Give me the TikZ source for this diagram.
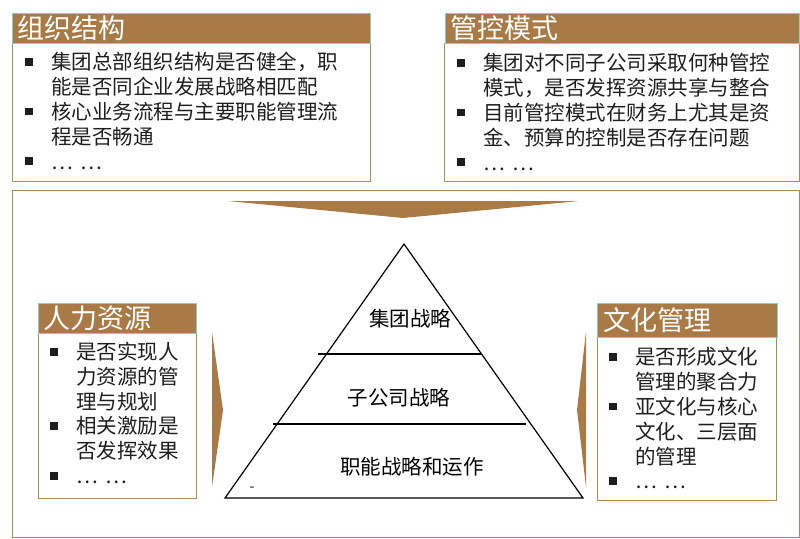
\documentclass[tikz,border=0pt]{standalone}
\usepackage{fontspec}
\setmainfont{Noto Sans CJK SC}
\usepackage{xcolor}
\usepackage{tikz}
\definecolor{hdbrown}{HTML}{A97A45}
\definecolor{lnbrown}{HTML}{B38A55}
\definecolor{lnteal}{HTML}{86D4B8}
\definecolor{txgray}{HTML}{1E1E1E}
\newcommand\sq{\makebox[26pt][l]{\raisebox{4pt}{\rule{7.6pt}{7.6pt}}}}
\newcommand\etcdots{…\hspace{8pt}…}
\newcommand\hd{\fontsize{27}{30}\selectfont}
\newcommand\bd{\fontsize{20.5}{24.8}\selectfont}

\tikzset{
  boxhead/.style={draw=lnteal, line width=0.8pt, fill=hdbrown, text=white,
    font=\hd, anchor=north west, inner sep=0pt, inner xsep=5pt, align=left},
  boxframe/.style={draw=lnbrown, line width=1.3pt, anchor=north west, inner sep=0pt},
  itemlist/.style={anchor=base west, inner sep=0pt, text=txgray, font=\bd},
  tier/.style={font=\bd, text=black, inner sep=0pt},
}

\begin{document}
\begin{tikzpicture}[x=1pt,y=-1pt]
      \useasboundingbox (0,0) rectangle (800,538);

      \coordinate (Org) at (12, 13);
      \coordinate (Orgb) at (12, 43);
      \coordinate (Orgl) at (25, 69.8);
      \coordinate (Ctl) at (445, 13);
      \coordinate (Ctlb) at (444, 43);
      \coordinate (Ctll) at (457, 70.8);
      \coordinate (Hr) at (38, 303);
      \coordinate (Hrb) at (38, 333);
      \coordinate (Hrl) at (50, 359.5);
      \coordinate (Cul) at (597, 303);
      \coordinate (Culb) at (597, 337);
      \coordinate (Cull) at (609, 364.8);

      \coordinate (Main) at (12, 190);

      \coordinate (Apex) at (404, 244);
      \coordinate (Basel) at (225, 498);
      \coordinate (Baser) at (583, 498);
      \coordinate (Tonel) at (318, 354);
      \coordinate (Toner) at (481, 354);
      \coordinate (Ttwol) at (273, 424);
      \coordinate (Ttwor) at (526, 424);

      \coordinate (Dnl) at (228, 201);
      \coordinate (Dnr) at (579, 201);
      \coordinate (Dnp) at (403, 218);
      \coordinate (Ltt) at (212, 332);
      \coordinate (Ltb) at (212, 487);
      \coordinate (Ltp) at (223, 410);
      \coordinate (Rtt) at (586, 332);
      \coordinate (Rtb) at (586, 487);
      \coordinate (Rtp) at (577, 410);

      \node[boxframe, minimum width=787, minimum height=347] (mainbox) at (Main) {};

      % top boxes
      \node[boxframe, minimum width=358, minimum height=138] (orgbody) at (Orgb) {};
      \node[boxhead, text width=348, minimum height=30] (orghead) at (Org) {组织结构};
      \node[itemlist] (orglist) at (Orgl) {\begin{tabular}[t]{@{}l@{}l@{}}
        \sq & 集团总部组织结构是否健全，职\\
            & 能是否同企业发展战略相匹配\\
        \sq & 核心业务流程与主要职能管理流\\
            & 程是否畅通\\
        \sq & \etcdots
      \end{tabular}};

      \node[boxframe, minimum width=355, minimum height=138] (ctlbody) at (Ctlb) {};
      \node[boxhead, text width=344, minimum height=30] (ctlhead) at (Ctl) {管控模式};
      \node[itemlist] (ctllist) at (Ctll) {\begin{tabular}[t]{@{}l@{}l@{}}
        \sq & 集团对不同子公司采取何种管控\\
            & 模式，是否发挥资源共享与整合\\
        \sq & 目前管控模式在财务上尤其是资\\
            & 金、预算的控制是否存在问题\\
        \sq & \etcdots
      \end{tabular}};

      % side boxes
      \node[boxframe, minimum width=158, minimum height=165] (hrbody) at (Hrb) {};
      \node[boxhead, text width=148, minimum height=30] (hrhead) at (Hr) {人力资源};
      \node[itemlist] (hrlist) at (Hrl) {\begin{tabular}[t]{@{}l@{}l@{}}
        \sq & 是否实现人\\
            & 力资源的管\\
            & 理与规划\\
        \sq & 相关激励是\\
            & 否发挥效果\\
        \sq & \etcdots
      \end{tabular}};

      \node[boxframe, minimum width=179, minimum height=163] (culbody) at (Culb) {};
      \node[boxhead, text width=168, minimum height=34, inner xsep=6pt] (culhead) at (Cul) {文化管理};
      \node[itemlist] (cullist) at (Cull) {\begin{tabular}[t]{@{}l@{}l@{}}
        \sq & 是否形成文化\\
            & 管理的聚合力\\
        \sq & 亚文化与核心\\
            & 文化、三层面\\
            & 的管理\\
        \sq & \etcdots
      \end{tabular}};

      % arrows into the pyramid
      \fill[hdbrown] (Dnl) -- (Dnr) -- (Dnp) -- cycle;
      \fill[hdbrown] (Ltt) -- (Ltp) -- (Ltb) -- cycle;
      \fill[hdbrown] (Rtt) -- (Rtp) -- (Rtb) -- cycle;

      % pyramid
      \draw[line width=1.2pt] (Apex) -- (Baser) -- (Basel) -- cycle;
      \draw[line width=1.2pt] (Tonel) -- (Toner);
      \draw[line width=1.2pt] (Ttwol) -- (Ttwor);

      \node[tier] (grp) at (410, 319) {集团战略};
      \node[tier] (sub) at (399, 398) {子公司战略};
      \node[tier] (fun) at (412, 467) {职能战略和运作};
      \node[tier, font=\fontsize{14}{16}\selectfont] (dash) at (252, 489) {-};
\end{tikzpicture}
\end{document}
